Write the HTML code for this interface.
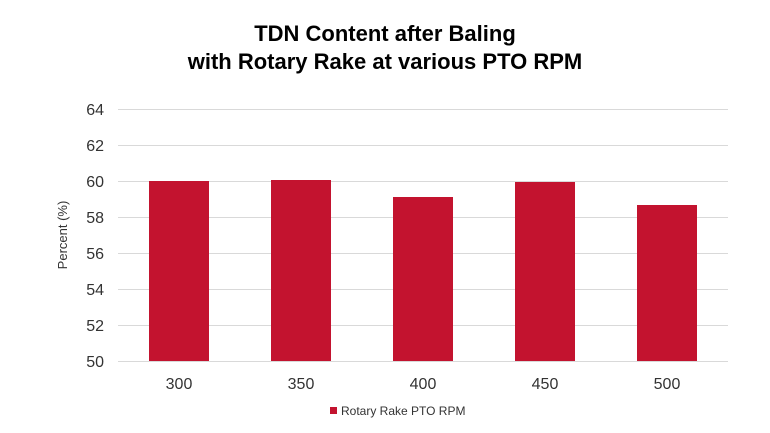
<!DOCTYPE html>
<html><head><style>
body{margin:0;background:#fff;}
svg{display:block;font-family:"Liberation Sans",Arial,sans-serif;}
</style></head><body>
<svg width="770" height="433" viewBox="0 0 770 433">
<text x="385" y="41" text-anchor="middle" font-size="22" font-weight="bold" fill="#000">TDN Content after Baling</text>
<text x="385" y="69" text-anchor="middle" font-size="22" font-weight="bold" fill="#000">with Rotary Rake at various PTO RPM</text>
<g stroke="#d9d9d9" stroke-width="1">
<line x1="118" x2="728" y1="109.5" y2="109.5"/>
<line x1="118" x2="728" y1="145.5" y2="145.5"/>
<line x1="118" x2="728" y1="181.5" y2="181.5"/>
<line x1="118" x2="728" y1="217.5" y2="217.5"/>
<line x1="118" x2="728" y1="253.5" y2="253.5"/>
<line x1="118" x2="728" y1="289.5" y2="289.5"/>
<line x1="118" x2="728" y1="325.5" y2="325.5"/>
<line x1="118" x2="728" y1="361.5" y2="361.5"/>
</g>
<g font-size="16" fill="#333" text-anchor="end">
<text x="104" y="115">64</text><text x="104" y="151">62</text><text x="104" y="187">60</text><text x="104" y="223">58</text>
<text x="104" y="259">56</text><text x="104" y="295">54</text><text x="104" y="331">52</text><text x="104" y="367">50</text>
</g>
<text transform="translate(67,235) rotate(-90)" text-anchor="middle" font-size="13" fill="#333">Percent (%)</text>
<g fill="#c3132f">
<rect x="149" y="181" width="60" height="180"/>
<rect x="271" y="180" width="60" height="181"/>
<rect x="393" y="197" width="60" height="164"/>
<rect x="515" y="182" width="60" height="179"/>
<rect x="637" y="205" width="60" height="156"/>
</g>
<g font-size="16" fill="#333" text-anchor="middle">
<text x="179" y="389">300</text><text x="301" y="389">350</text><text x="423" y="389">400</text><text x="545" y="389">450</text><text x="667" y="389">500</text>
</g>
<rect x="330" y="407" width="7" height="7" fill="#c3132f"/>
<text x="341" y="415" font-size="12" fill="#333">Rotary Rake PTO RPM</text>
</svg>
</body></html>
